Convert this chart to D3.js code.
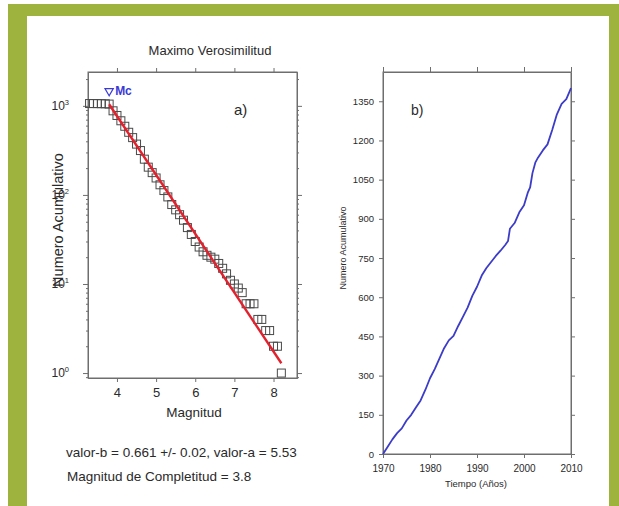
<!DOCTYPE html>
<html>
<head>
<meta charset="utf-8">
<script src="https://cdn.jsdelivr.net/npm/d3@7"></script>
<style>
  body { margin: 0; background: #fff; }
  svg { display: block; }
  text { font-family: "Liberation Sans", Arial, sans-serif; }
</style>
</head>
<body>
<svg id="chart" width="619" height="506"></svg>
<script>
// ---- Gutenberg-Richter panel (a) ----
const magnitudes = [3.3, 3.4, 3.5, 3.6, 3.7, 3.8, 3.9, 4.0, 4.1, 4.2, 4.3, 4.4, 4.5, 4.6, 4.7,
  4.8, 4.9, 5.0, 5.1, 5.2, 5.3, 5.4, 5.5, 5.6, 5.7, 5.8, 5.9, 6.0, 6.1, 6.2, 6.3, 6.4, 6.5,
  6.6, 6.7, 6.8, 6.9, 7.0, 7.1, 7.2, 7.3, 7.4, 7.5, 7.6, 7.7, 7.8, 7.9, 8.0, 8.1, 8.2];
const cumulativeCounts = [1062, 1061, 1060, 1058, 1055, 1047, 880, 780, 680, 590, 505, 440, 372,
  315, 252, 205, 178, 155, 130, 112, 95, 78, 68, 60, 52, 43, 36, 30, 26, 23, 21, 20, 19,
  17, 15, 13, 11, 10, 9, 8, 6, 6, 6, 4, 4, 3, 3, 2, 2, 1];
const bValue = 0.661;
const bError = 0.02;
const aValue = 5.53;
const completenessMag = 3.8;
const fitEndMag = 8.2;
const magTicks = [4, 5, 6, 7, 8];
const decadeTicks = [1, 10, 100, 1000];
const decadeExponents = [0, 1, 2, 3];

// ---- Cumulative seismicity panel (b) ----
const years = [1970, 1971, 1972, 1973, 1974, 1975, 1976, 1977, 1978, 1979, 1980, 1981, 1982,
  1983, 1984, 1985, 1986, 1987, 1988, 1989, 1990, 1991, 1992, 1993, 1994, 1995, 1996, 1996.6,
  1997, 1998, 1999, 2000, 2000.8, 2001.3, 2001.8, 2002.4, 2003, 2004, 2005, 2006, 2007, 2008,
  2009, 2010];
const yearCounts = [0, 28, 56, 80, 98, 128, 150, 178, 205, 245, 290, 325, 365,
  405, 435, 452, 490, 525, 560, 605, 640, 683, 712, 735, 758, 778, 800, 815,
  862, 884, 925, 952, 1000, 1020, 1075, 1115, 1135, 1162, 1185, 1240, 1300, 1340,
  1358, 1400];
const yearTicks = [1970, 1980, 1990, 2000, 2010];
const countTicks = [0, 150, 300, 450, 600, 750, 900, 1050, 1200, 1350];

const svg = d3.select("#chart");
const axisColor = "#6e6e6e";
const textColor = "#2a2a2a";

// Green page frame
const frameGreen = "#9db33e";
svg.append("rect").attr("x", 8).attr("y", 4).attr("width", 611).attr("height", 12).attr("fill", frameGreen);
svg.append("rect").attr("x", 8).attr("y", 4).attr("width", 19).attr("height", 502).attr("fill", frameGreen);
svg.append("rect").attr("x", 609).attr("y", 4).attr("width", 10).attr("height", 502).attr("fill", frameGreen);

function styleAxis(g) {
  g.selectAll("path").attr("stroke", axisColor);
  g.selectAll("line").attr("stroke", axisColor);
  g.selectAll("text").attr("fill", textColor);
}
const fontFam = "Liberation Sans, Arial, sans-serif";

// ================= Panel a =================
const A = { left: 88, right: 297, top: 72, bottom: 378 };
const xMag = d3.scaleLinear().domain([3.26, 8.6]).range([A.left, A.right]);
const yLog = d3.scaleLog().domain([0.88, 2400]).range([A.bottom, A.top]);

const pa = svg.append("g");

const minorTicks = yLog.ticks().filter(v => !decadeTicks.includes(v));

// Bottom axis with labels
pa.append("g").attr("transform", `translate(0,${A.bottom})`)
  .call(d3.axisBottom(xMag).tickValues(magTicks).tickSize(4).tickSizeOuter(0).tickPadding(6).tickFormat(d3.format("d")))
  .call(g => g.selectAll("text").attr("font-size", 13).style("font-family", fontFam))
  .call(styleAxis);
// Top axis, ticks only
pa.append("g").attr("transform", `translate(0,${A.top})`)
  .call(d3.axisTop(xMag).tickValues(magTicks).tickSize(4).tickSizeOuter(0).tickFormat(""))
  .call(styleAxis);
// Left axis: minor + major ticks
pa.append("g").attr("transform", `translate(${A.left},0)`)
  .call(d3.axisLeft(yLog).tickValues(minorTicks).tickSize(2).tickSizeOuter(0).tickFormat(""))
  .call(styleAxis);
pa.append("g").attr("transform", `translate(${A.left},0)`)
  .call(d3.axisLeft(yLog).tickValues(decadeTicks).tickSize(5).tickSizeOuter(0).tickFormat(""))
  .call(styleAxis);
// Right axis: minor + major ticks
pa.append("g").attr("transform", `translate(${A.right},0)`)
  .call(d3.axisRight(yLog).tickValues(minorTicks).tickSize(2).tickSizeOuter(0).tickFormat(""))
  .call(styleAxis);
pa.append("g").attr("transform", `translate(${A.right},0)`)
  .call(d3.axisRight(yLog).tickValues(decadeTicks).tickSize(5).tickSizeOuter(0).tickFormat(""))
  .call(styleAxis);

// Plot frame
pa.append("rect").attr("x", A.left).attr("y", A.top)
  .attr("width", A.right - A.left).attr("height", A.bottom - A.top)
  .attr("fill", "none").attr("stroke", axisColor).attr("stroke-width", 1);

// Power-of-ten labels
const decLabels = pa.append("g").selectAll("text").data(decadeTicks).join("text")
  .attr("x", A.left - 19).attr("y", d => yLog(d) + 4)
  .attr("text-anchor", "end").attr("font-size", 12).attr("fill", textColor);
decLabels.append("tspan").text("10");
decLabels.append("tspan").attr("dy", -5).attr("font-size", 7.5)
  .text((d, i) => decadeExponents[i]);

// Observed cumulative counts as open squares
const sq = 8;
pa.append("g").selectAll("rect").data(magnitudes).join("rect")
  .attr("x", d => xMag(d) - sq / 2)
  .attr("y", (d, i) => yLog(cumulativeCounts[i]) - sq / 2)
  .attr("width", sq).attr("height", sq)
  .attr("fill", "none").attr("stroke", "#4a4a4a").attr("stroke-width", 1);

// Maximum-likelihood fit: log10 N = a - b M
const fitLine = d3.line().x(d => xMag(d)).y(d => yLog(Math.pow(10, aValue - bValue * d)));
pa.append("path").datum([completenessMag, fitEndMag])
  .attr("d", fitLine).attr("fill", "none")
  .attr("stroke", "#e3202c").attr("stroke-width", 2.4);

// Mc marker
const mcX = xMag(completenessMag);
pa.append("path")
  .attr("d", d3.symbol().type(d3.symbolTriangle).size(30)())
  .attr("transform", `translate(${mcX},${91}) rotate(180)`)
  .attr("fill", "none").attr("stroke", "#3a3ad6").attr("stroke-width", 1.2);
pa.append("text").attr("x", mcX + 6).attr("y", 95)
  .attr("font-size", 12).attr("font-weight", "bold").attr("fill", "#3a3ad6").text("Mc");

pa.append("text").attr("x", 234).attr("y", 115).attr("font-size", 15).attr("fill", textColor).text("a)");

pa.append("text").attr("x", 210).attr("y", 55).attr("text-anchor", "middle")
  .attr("font-size", 13).attr("fill", textColor).text("Maximo Verosimilitud");
pa.append("text").attr("x", 194).attr("y", 417).attr("text-anchor", "middle")
  .attr("font-size", 13.5).attr("fill", textColor).text("Magnitud");
pa.append("text").attr("transform", `translate(63,220) rotate(-90)`)
  .attr("text-anchor", "middle").attr("font-size", 14.5).attr("fill", textColor).text("Numero Acumulativo");

pa.append("text").attr("x", 66).attr("y", 457).attr("font-size", 13.5).attr("fill", textColor)
  .text(`valor-b = ${bValue} +/- ${bError},  valor-a = ${aValue}`);
pa.append("text").attr("x", 67).attr("y", 481).attr("font-size", 13.5).attr("fill", textColor)
  .text(`Magnitud de Completitud = ${completenessMag}`);

// ================= Panel b =================
const B = { left: 383, right: 571, top: 72, bottom: 454 };
const xYear = d3.scaleLinear().domain([1970, 2010]).range([B.left, B.right]);
const yCount = d3.scaleLinear().domain([0, 1462]).range([B.bottom, B.top]);

const pb = svg.append("g");

pb.append("g").attr("transform", `translate(0,${B.bottom})`)
  .call(d3.axisBottom(xYear).tickValues(yearTicks).tickSize(4).tickSizeOuter(0).tickPadding(7).tickFormat(d3.format("d")))
  .call(g => g.selectAll("text").attr("font-size", 10).style("font-family", fontFam))
  .call(styleAxis);
pb.append("g").attr("transform", `translate(0,${B.top})`)
  .call(d3.axisTop(xYear).tickValues(yearTicks).tickSize(5).tickSizeOuter(0).tickFormat(""))
  .call(styleAxis);
pb.append("g").attr("transform", `translate(${B.left},0)`)
  .call(d3.axisLeft(yCount).tickValues(countTicks).tickSize(4).tickSizeOuter(0).tickPadding(5).tickFormat(d3.format("d")))
  .call(g => g.selectAll("text").attr("font-size", 9.5).style("font-family", fontFam))
  .call(styleAxis);
pb.append("g").attr("transform", `translate(${B.right},0)`)
  .call(d3.axisRight(yCount).tickValues(countTicks).tickSize(4).tickSizeOuter(0).tickFormat(""))
  .call(styleAxis);

pb.append("rect").attr("x", B.left).attr("y", B.top)
  .attr("width", B.right - B.left).attr("height", B.bottom - B.top)
  .attr("fill", "none").attr("stroke", axisColor).attr("stroke-width", 1);

const cumLine = d3.line().x(d => xYear(d)).y((d, i) => yCount(yearCounts[i]));
pb.append("path").datum(years).attr("d", cumLine)
  .attr("fill", "none").attr("stroke", "#3c3cc8").attr("stroke-width", 1.8)
  .attr("stroke-linejoin", "round");

pb.append("text").attr("x", 411).attr("y", 115).attr("font-size", 14).attr("fill", textColor).text("b)");
pb.append("text").attr("x", 476).attr("y", 487).attr("text-anchor", "middle")
  .attr("font-size", 9.5).attr("fill", textColor).text("Tiempo (Años)");
pb.append("text").attr("transform", `translate(346,248) rotate(-90)`)
  .attr("text-anchor", "middle").attr("font-size", 9).attr("fill", textColor).text("Numero Acumulativo");
</script>
</body>
</html>
